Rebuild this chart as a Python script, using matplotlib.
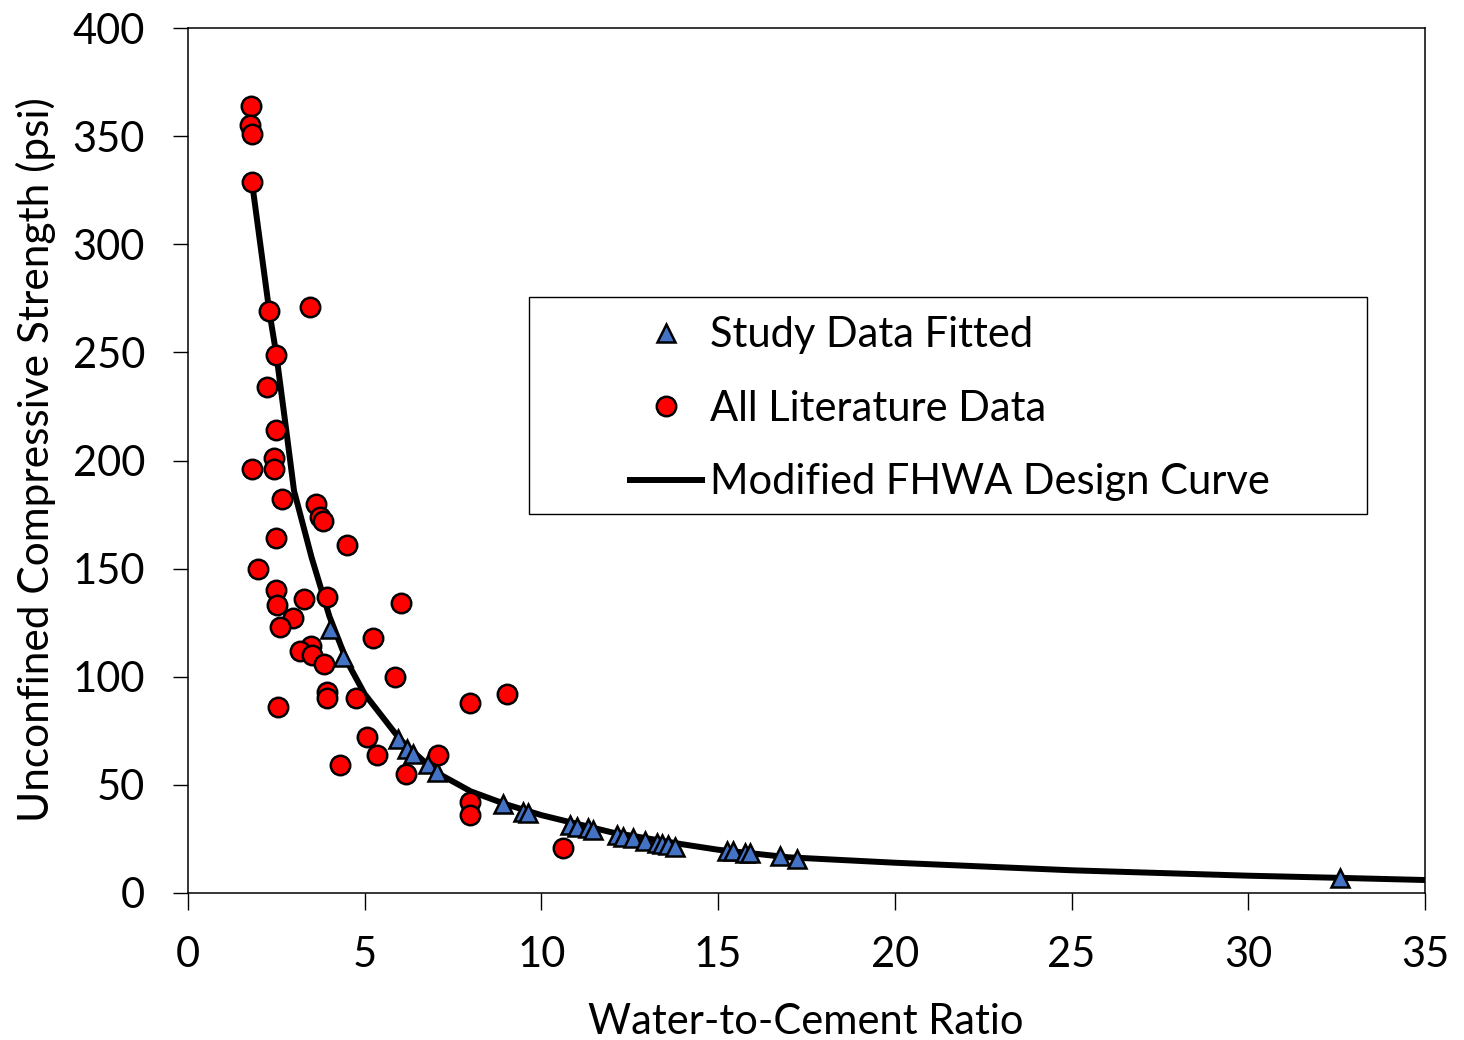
import matplotlib
matplotlib.use("Agg")
import matplotlib.pyplot as plt
from matplotlib.patches import Rectangle

plt.rcParams['font.family'] = ['Lato', 'DejaVu Sans']

# Study data fitted (blue triangles)
study_x = [4.02, 4.39, 5.93, 6.20, 6.38, 6.79, 7.05, 8.91, 9.48, 9.62, 10.81, 11.00,
           11.32, 11.46, 12.14, 12.31, 12.59, 12.93, 13.27, 13.41, 13.58, 13.78,
           15.25, 15.42, 15.76, 15.90, 16.75, 17.23, 32.6]
study_y = [122, 109, 71, 66.5, 64.5, 59.5, 56, 41, 37.5, 37, 31.5, 30.5,
           30, 29, 27, 26, 25.5, 24, 23, 22.5, 22, 21.5,
           19.5, 19.5, 18.5, 18.5, 17, 15.5, 7]

# All literature data (red circles)
lit_x = [1.78, 1.75, 1.81, 1.81, 2.29, 3.45, 2.49, 2.24, 2.49, 2.43, 1.81, 2.43,
         2.66, 3.62, 3.74, 3.82, 4.50, 2.49, 1.98, 2.49, 2.52, 3.28, 3.93, 6.03,
         2.97, 2.60, 5.23, 3.48, 3.17, 3.51, 3.85, 5.86, 3.93, 3.93, 4.75, 2.55,
         7.98, 9.03, 5.07, 5.35, 4.30, 6.17, 7.07, 7.98, 7.98, 10.61]
lit_y = [364, 355, 351, 329, 269, 271, 249, 234, 214, 201, 196, 196,
         182, 180, 174, 172, 161, 164, 150, 140, 133, 136, 137, 134,
         127, 123, 118, 114, 112, 110, 106, 100, 93, 90, 90, 86,
         88, 92, 72, 64, 59, 55, 64, 42, 36, 21]

# Modified FHWA design curve
curve_x = [1.8, 2.3, 2.5, 2.78, 3.0, 3.5, 4.0, 4.5, 5.0, 6.0, 7.0, 8.0, 9.0, 10, 12, 14,
           15, 17, 20, 25, 30, 32.6, 35]
curve_y = [330, 269, 249, 214, 186, 155, 128, 107, 92, 71, 56, 47, 41, 36, 28, 22.5,
           20, 16.5, 14, 10.5, 8, 7, 6]

xticks = [0, 5, 10, 15, 20, 25, 30, 35]
yticks = [0, 50, 100, 150, 200, 250, 300, 350, 400]

fig = plt.figure(figsize=(14.64, 10.40), dpi=100)
ax = fig.add_axes([188/1464, 1-893/1040, (1425-188)/1464, (893-28)/1040])

ax.plot(curve_x, curve_y, color='black', lw=4.3, solid_capstyle='butt', zorder=2,
        label='Modified FHWA Design Curve')
ax.plot(study_x, study_y, linestyle='none', marker='^', ms=13, mfc='#4472C4',
        mec='black', mew=1.8, zorder=3, label='Study Data Fitted')
ax.plot(lit_x, lit_y, linestyle='none', marker='o', ms=14, mfc='#FF0000',
        mec='black', mew=1.8, zorder=4, label='All Literature Data')

ax.set_xlim(0, 35)
ax.set_ylim(0, 400)
ax.set_xticks(xticks)
ax.set_yticks(yticks)
ax.tick_params(axis='x', direction='out', length=12, width=1, pad=19, labelsize=30, top=False)
ax.tick_params(axis='y', direction='out', length=11, width=1, pad=20, labelsize=30, right=False)
for s in ax.spines.values():
    s.set_linewidth(1.1)

ax.set_xlabel('Water-to-Cement Ratio', fontsize=30)
ax.set_ylabel('Unconfined Compressive Strength (psi)', fontsize=30.5)
ax.xaxis.set_label_coords(0.499, (893-1003)/865, transform=ax.transAxes)
ax.yaxis.set_label_coords((56-188)/1237, (893-460)/865, transform=ax.transAxes)

# legend frame
rx0 = (529-188)/1237
ry0 = (893-514)/865
rw = (1367-529)/1237
rh = (514-297)/865
ax.add_patch(Rectangle((rx0, ry0), rw, rh, transform=ax.transAxes, fill=True,
                       facecolor='white', edgecolor='black', lw=1, zorder=5))

h, l = ax.get_legend_handles_labels()
order = [1, 2, 0]
fs = 30
fs_px = fs * 100 / 72
row_h = 0.947 * fs_px
leg = ax.legend([h[i] for i in order], [l[i] for i in order], frameon=False,
                fontsize=fs, loc='upper left',
                bbox_to_anchor=((627-188)/1237, (893-(336-row_h/2))/865),
                borderaxespad=0, borderpad=0,
                handlelength=78/fs_px, handletextpad=5/fs_px,
                labelspacing=(75-row_h)/fs_px)
leg.set_zorder(6)

fig.savefig('out.png', dpi=100)
